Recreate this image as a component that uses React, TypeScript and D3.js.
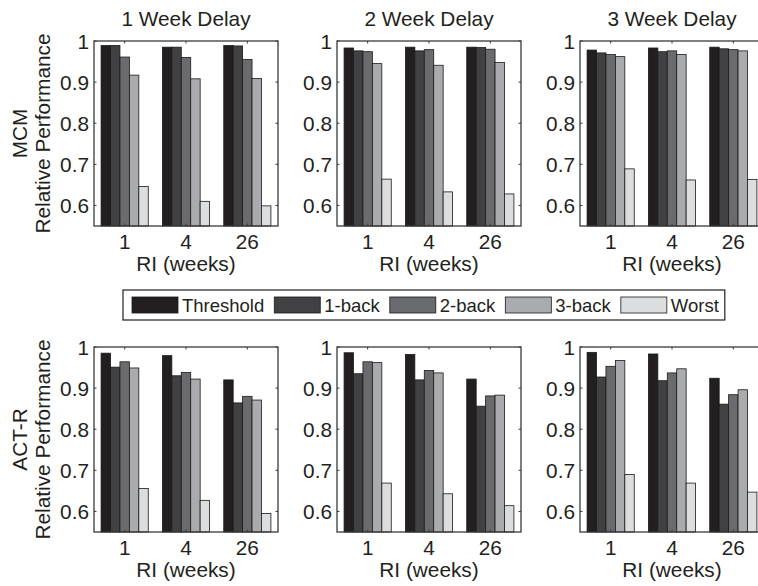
import { scaleBand, scaleLinear } from "d3";

const width = 758;
const height = 586;
const FONT = "'Liberation Sans', Arial, Helvetica, sans-serif";
const FS = 20.8;

// data
const riWeeks = ["1", "4", "26"];
const strategies = ["Threshold", "1-back", "2-back", "3-back", "Worst"];
const fills = ["#231f20", "#414042", "#6a6b6e", "#a9abae", "#dcdddf"];
const delayTitles = ["1 Week Delay", "2 Week Delay", "3 Week Delay"];
const modelNames = ["MCM", "ACT-R"];
const yTicks = [0.6, 0.7, 0.8, 0.9, 1];

// one row per strategy, one value per RI
const mcmDelay1 = [
  [0.989, 0.985, 0.989],
  [0.989, 0.985, 0.988],
  [0.961, 0.96, 0.955],
  [0.917, 0.908, 0.909],
  [0.646, 0.61, 0.599],
];
const mcmDelay2 = [
  [0.983, 0.985, 0.985],
  [0.976, 0.976, 0.984],
  [0.974, 0.979, 0.98],
  [0.945, 0.941, 0.948],
  [0.664, 0.633, 0.628],
];
const mcmDelay3 = [
  [0.978, 0.983, 0.985],
  [0.971, 0.974, 0.981],
  [0.967, 0.976, 0.979],
  [0.962, 0.967, 0.976],
  [0.689, 0.662, 0.663],
];
const actrDelay1 = [
  [0.985, 0.979, 0.92],
  [0.951, 0.93, 0.864],
  [0.964, 0.938, 0.88],
  [0.949, 0.922, 0.871],
  [0.656, 0.627, 0.595],
];
const actrDelay2 = [
  [0.986, 0.982, 0.922],
  [0.935, 0.92, 0.856],
  [0.964, 0.943, 0.881],
  [0.962, 0.937, 0.883],
  [0.669, 0.643, 0.614],
];
const actrDelay3 = [
  [0.987, 0.983, 0.924],
  [0.927, 0.918, 0.861],
  [0.953, 0.937, 0.884],
  [0.967, 0.947, 0.896],
  [0.69, 0.669, 0.647],
];
const panels = [
  [mcmDelay1, mcmDelay2, mcmDelay3],
  [actrDelay1, actrDelay2, actrDelay3],
];

// layout
const panelLefts = [94, 337, 580];
const rowTops = [41, 347];
const panelW = 184;
const panelH = 185;

const xGroup = scaleBand<string>()
  .domain(riWeeks)
  .range([0, panelW])
  .paddingInner(0.2308)
  .paddingOuter(0.1154);
const xBar = scaleBand<string>()
  .domain(strategies)
  .range([0, xGroup.bandwidth()]);
const yScale = scaleLinear().domain([0.55, 1]).range([panelH, 0]);

function textWidth(s: string, size: number) {
  const ctx = document.createElement("canvas").getContext("2d");
  if (!ctx) return s.length * size * 0.5;
  ctx.font = `${size}px ${FONT}`;
  return ctx.measureText(s).width;
}

function Panel({ data, x0, y0 }: { data: number[][]; x0: number; y0: number }) {
  const tick = 2.5;
  return (
    <g transform={`translate(${x0},${y0})`}>
      {riWeeks.map((g, gi) =>
        strategies.map((s, si) => {
          const v = data[si][gi];
          return (
            <rect
              key={g + s}
              x={(xGroup(g) ?? 0) + (xBar(s) ?? 0)}
              y={yScale(v)}
              width={xBar.bandwidth()}
              height={panelH - yScale(v)}
              fill={fills[si]}
              stroke="#1a1a1a"
              strokeWidth={0.8}
            />
          );
        })
      )}
      <rect x={0} y={0} width={panelW} height={panelH} fill="none" stroke="#3a3a3a" strokeWidth={1.3} />
      {yTicks.map((t) => (
        <g key={t}>
          <line x1={0} x2={tick} y1={yScale(t)} y2={yScale(t)} stroke="#3a3a3a" />
          <line x1={panelW} x2={panelW - tick} y1={yScale(t)} y2={yScale(t)} stroke="#3a3a3a" />
          <text x={-5} y={yScale(t)} dy="0.36em" textAnchor="end" fontSize={FS} fill="#231f20">
            {String(t)}
          </text>
        </g>
      ))}
      {riWeeks.map((g) => {
        const cx = (xGroup(g) ?? 0) + xGroup.bandwidth() / 2;
        return (
          <g key={g}>
            <line x1={cx} x2={cx} y1={0} y2={tick} stroke="#3a3a3a" />
            <line x1={cx} x2={cx} y1={panelH} y2={panelH - tick} stroke="#3a3a3a" />
            <text x={cx} y={panelH + 23} textAnchor="middle" fontSize={FS} fill="#231f20">
              {g}
            </text>
          </g>
        );
      })}
      <text x={panelW / 2} y={panelH + 45} textAnchor="middle" fontSize={FS} fill="#231f20">
        RI (weeks)
      </text>
    </g>
  );
}

function Legend() {
  const left = 123;
  const top = 290;
  const size = 18.5;
  const sw = 46;
  let cur = left + 9;
  const items = strategies.map((s, i) => {
    const x = cur;
    cur += sw + 4 + textWidth(s, size) + 10;
    return (
      <g key={s}>
        <rect x={x} y={top + 7} width={sw} height={16} fill={fills[i]} stroke="#1a1a1a" strokeWidth={0.8} />
        <text x={x + sw + 4} y={top + 15} dy="0.36em" fontSize={size} fill="#231f20">
          {s}
        </text>
      </g>
    );
  });
  return (
    <g>
      <rect x={left} y={top} width={cur - left - 4} height={30} fill="#fff" stroke="#231f20" strokeWidth={1.2} />
      {items}
    </g>
  );
}

export default function App() {
  return (
    <div style={{ position: "absolute", left: 0, top: 0 }}>
      <svg width={width} height={height} viewBox={`0 0 ${width} ${height}`} style={{ display: "block", fontFamily: FONT }}>
        <rect width={width} height={height} fill="#fff" />
        {delayTitles.map((t, i) => (
          <text key={t} x={panelLefts[i] + panelW / 2} y={26} textAnchor="middle" fontSize={FS} fill="#231f20">
            {t}
          </text>
        ))}
        {modelNames.map((m, r) => {
          const cy = rowTops[r] + panelH / 2;
          return (
            <g key={m}>
              <text transform={`translate(27,${cy}) rotate(-90)`} textAnchor="middle" fontSize={FS} fill="#231f20">
                {m}
              </text>
              <text transform={`translate(50,${cy}) rotate(-90)`} textAnchor="middle" fontSize={FS} fill="#231f20">
                Relative Performance
              </text>
            </g>
          );
        })}
        {panels.map((row, r) =>
          row.map((d, c) => <Panel key={`${r}-${c}`} data={d} x0={panelLefts[c]} y0={rowTops[r]} />)
        )}
        <Legend />
      </svg>
    </div>
  );
}
